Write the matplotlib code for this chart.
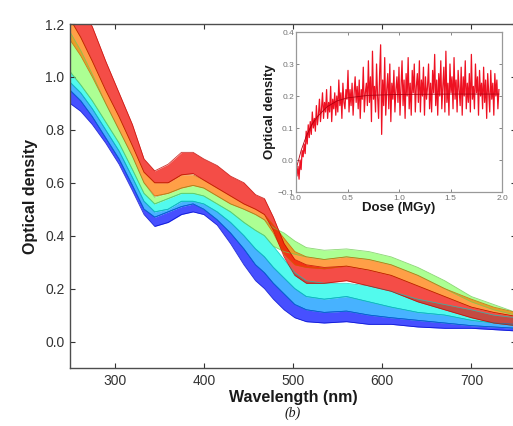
#!/usr/bin/env python3
"""Absorption spectra vs wavelength for increasing dose, with an OD-vs-dose inset."""

import matplotlib
matplotlib.use("Agg")
import matplotlib.pyplot as plt
import numpy as np

plt.rcParams["font.family"] = ["Liberation Sans", "DejaVu Sans"]

WAVELENGTH = [250, 262, 275, 290, 305, 320, 333, 345, 360, 375, 388, 400, 415, 430, 445,
              458, 468, 478, 490, 502, 515, 535, 560, 585, 610, 640, 670, 700, 725, 750]

# colour bands, low dose (blue) to high dose (red): lower and upper edge of each band
BLUE_LO = [0.90, 0.87, 0.82, 0.75, 0.67, 0.57, 0.48, 0.435, 0.45, 0.48, 0.49, 0.48, 0.44, 0.37, 0.29,
           0.23, 0.20, 0.16, 0.12, 0.09, 0.075, 0.07, 0.075, 0.065, 0.065, 0.055, 0.05, 0.05, 0.045, 0.04]
BLUE_HI = [0.95, 0.91, 0.85, 0.77, 0.69, 0.59, 0.50, 0.47, 0.49, 0.51, 0.52, 0.50, 0.46, 0.41, 0.35,
           0.29, 0.26, 0.22, 0.18, 0.14, 0.12, 0.11, 0.115, 0.10, 0.09, 0.08, 0.07, 0.06, 0.055, 0.05]
LBLUE_LO = [0.95, 0.91, 0.85, 0.77, 0.69, 0.59, 0.50, 0.47, 0.49, 0.51, 0.52, 0.50, 0.46, 0.41, 0.35,
            0.29, 0.26, 0.22, 0.18, 0.14, 0.12, 0.11, 0.115, 0.10, 0.09, 0.08, 0.07, 0.06, 0.055, 0.05]
LBLUE_HI = [0.98, 0.94, 0.88, 0.80, 0.72, 0.62, 0.53, 0.49, 0.50, 0.53, 0.53, 0.52, 0.49, 0.45, 0.40,
            0.35, 0.32, 0.28, 0.24, 0.20, 0.17, 0.16, 0.17, 0.15, 0.13, 0.11, 0.10, 0.08, 0.07, 0.065]
CYAN_LO = [0.98, 0.94, 0.88, 0.80, 0.72, 0.62, 0.53, 0.49, 0.50, 0.53, 0.53, 0.52, 0.49, 0.45, 0.40,
           0.35, 0.32, 0.28, 0.24, 0.20, 0.17, 0.16, 0.17, 0.15, 0.13, 0.11, 0.10, 0.08, 0.07, 0.06]
CYAN_HI = [1.02, 0.97, 0.91, 0.83, 0.75, 0.65, 0.56, 0.52, 0.54, 0.56, 0.56, 0.55, 0.52, 0.49, 0.45,
           0.42, 0.40, 0.36, 0.31, 0.26, 0.23, 0.22, 0.22, 0.21, 0.19, 0.16, 0.14, 0.12, 0.10, 0.09]
GREEN_LO = [1.02, 0.97, 0.91, 0.83, 0.75, 0.65, 0.56, 0.52, 0.54, 0.56, 0.56, 0.55, 0.52, 0.49, 0.45,
            0.42, 0.40, 0.36, 0.34, 0.33, 0.32, 0.31, 0.32, 0.31, 0.29, 0.25, 0.20, 0.15, 0.12, 0.10]
GREEN_HI = [1.17, 1.10, 1.01, 0.90, 0.80, 0.70, 0.60, 0.545, 0.56, 0.58, 0.59, 0.58, 0.55, 0.52, 0.50,
            0.48, 0.46, 0.43, 0.41, 0.38, 0.355, 0.345, 0.35, 0.34, 0.32, 0.28, 0.23, 0.17, 0.14, 0.11]
ORANGE_LO = [1.14, 1.08, 1.00, 0.90, 0.80, 0.70, 0.60, 0.55, 0.56, 0.58, 0.59, 0.58, 0.55, 0.52, 0.50,
             0.48, 0.46, 0.41, 0.33, 0.29, 0.28, 0.275, 0.285, 0.27, 0.25, 0.21, 0.17, 0.13, 0.11, 0.095]
ORANGE_HI = [1.22, 1.15, 1.06, 0.95, 0.85, 0.74, 0.64, 0.60, 0.60, 0.63, 0.63, 0.61, 0.58, 0.55, 0.52,
             0.50, 0.48, 0.44, 0.39, 0.34, 0.32, 0.31, 0.32, 0.31, 0.29, 0.25, 0.20, 0.16, 0.13, 0.11]
RED_LO = [1.22, 1.15, 1.06, 0.95, 0.85, 0.74, 0.64, 0.60, 0.60, 0.63, 0.635, 0.61, 0.58, 0.55, 0.52,
          0.50, 0.48, 0.42, 0.32, 0.25, 0.22, 0.22, 0.23, 0.21, 0.19, 0.15, 0.12, 0.09, 0.07, 0.06]
RED_HI = [1.32, 1.27, 1.19, 1.06, 0.94, 0.82, 0.69, 0.645, 0.67, 0.715, 0.715, 0.69, 0.665, 0.625, 0.60,
          0.555, 0.54, 0.47, 0.37, 0.31, 0.29, 0.28, 0.285, 0.27, 0.25, 0.21, 0.17, 0.13, 0.11, 0.095]

BAND_CMAP_POS = [0.14, 0.27, 0.37, 0.52, 0.78, 0.90]
BAND_LO = [BLUE_LO, LBLUE_LO, CYAN_LO, GREEN_LO, ORANGE_LO, RED_LO]
BAND_HI = [BLUE_HI, LBLUE_HI, CYAN_HI, GREEN_HI, ORANGE_HI, RED_HI]

# inset: optical density vs dose
INSET_OD = [
    -0.01, -0.05, -0.02, -0.06, 0.00, -0.03, 0.03, 0.01, 0.05, 0.02,
    0.09, 0.05, 0.11, 0.07, 0.12, 0.08, 0.15, 0.10, 0.13, 0.09,
    0.17, 0.11, 0.14, 0.19, 0.12, 0.16, 0.21, 0.13, 0.18, 0.15,
    0.22, 0.13, 0.18, 0.15, 0.23, 0.12, 0.19, 0.16, 0.21, 0.14,
    0.20, 0.15, 0.25, 0.17, 0.21, 0.13, 0.24, 0.18, 0.16, 0.22,
    0.19, 0.28, 0.15, 0.22, 0.17, 0.24, 0.14, 0.21, 0.26, 0.18,
    0.23, 0.16, 0.25, 0.13, 0.22, 0.19, 0.29, 0.15, 0.21, 0.24,
    0.17, 0.31, 0.18, 0.26, 0.12, 0.34, 0.19, 0.23, 0.15, 0.30,
    0.20, 0.13, 0.27, 0.36, 0.08, 0.25, 0.17, 0.32, 0.14, 0.22,
    0.27, 0.16, 0.30, 0.12, 0.24, 0.19, 0.28, 0.15, 0.22, 0.26,
    0.18, 0.29, 0.14, 0.23, 0.31, 0.17, 0.25, 0.13, 0.27, 0.20,
    0.32, 0.16, 0.24, 0.14, 0.28, 0.21, 0.30, 0.15, 0.23, 0.27,
    0.18, 0.31, 0.15, 0.25, 0.20, 0.29, 0.14, 0.26, 0.19, 0.23,
    0.30, 0.16, 0.24, 0.15, 0.28, 0.21, 0.33, 0.17, 0.25, 0.14,
    0.27, 0.20, 0.31, 0.16, 0.23, 0.29, 0.15, 0.34, 0.18, 0.24,
    0.14, 0.30, 0.21, 0.26, 0.16, 0.32, 0.19, 0.25, 0.15, 0.28,
    0.22, 0.17, 0.29, 0.14, 0.26, 0.20, 0.31, 0.16, 0.24, 0.18,
    0.27, 0.15, 0.33, 0.19, 0.23, 0.16, 0.30, 0.21, 0.26, 0.14,
    0.28, 0.20, 0.24, 0.16, 0.29, 0.18, 0.25, 0.13, 0.27, 0.21,
    0.15, 0.28, 0.19, 0.24, 0.14, 0.27, 0.20, 0.25, 0.16, 0.22,
]
INSET_MAX_DOSE = 1.97
FIT_DOSE = [0.0, 0.05, 0.1, 0.15, 0.2, 0.3, 0.4, 0.5, 0.7, 1.0, 1.5, 1.97]
FIT_OD = [-0.03, 0.03, 0.075, 0.108, 0.133, 0.166, 0.185, 0.194, 0.202, 0.205, 0.206, 0.206]

INK = "0.2"

fig = plt.figure(figsize=(5.13, 4.26), dpi=100)
ax = fig.add_axes([70 / 513, 1 - 368 / 426, 446 / 513, 344 / 426])

cmap = plt.get_cmap("jet")
wl = np.array(WAVELENGTH)
for pos, lo, hi in zip(BAND_CMAP_POS, BAND_LO, BAND_HI):
    colour = cmap(pos)
    edge = tuple(0.8 * c for c in colour[:3])
    ax.fill_between(wl, lo, hi, color=colour, alpha=0.72, linewidth=0)
    ax.plot(wl, lo, color=edge, linewidth=0.6, alpha=0.8)
    ax.plot(wl, hi, color=edge, linewidth=0.6, alpha=0.8)

ax.set_xlim(250, 750)
ax.set_ylim(-0.1, 1.2)
ax.set_xticks([300, 400, 500, 600, 700])
ax.set_yticks([0.0, 0.2, 0.4, 0.6, 0.8, 1.0, 1.2])
ax.set_yticklabels(["0.0", "0.2", "0.4", "0.6", "0.8", "1.0", "1.2"])
ax.tick_params(direction="in", top=True, right=True, length=3.5, width=0.8,
               labelsize=10, colors=INK, pad=4)
for spine in ax.spines.values():
    spine.set_color("0.3")
    spine.set_linewidth(1.0)
ax.set_xlabel("Wavelength (nm)", fontsize=11.5, fontweight="bold", color="0.1", labelpad=2)
ax.set_ylabel("Optical density", fontsize=11.5, fontweight="bold", color="0.1", labelpad=5)

fig.text(293 / 513, 1 - 413 / 426, "(b)", fontsize=10, style="italic",
         family="Liberation Serif", ha="center", va="center", color="0.1")

# inset
ins = fig.add_axes([296 / 513, 1 - 192 / 426, 206 / 513, 160 / 426])
dose = np.linspace(0.0, INSET_MAX_DOSE, len(INSET_OD))
ins.plot(dose, INSET_OD, color="#ee1122", linewidth=0.9)
ins.plot(FIT_DOSE, FIT_OD, color="#b00010", linewidth=0.6)
ins.set_xlim(0.0, 2.0)
ins.set_ylim(-0.1, 0.4)
ins.set_xticks([0.0, 0.5, 1.0, 1.5, 2.0])
ins.set_yticks([-0.1, 0.0, 0.1, 0.2, 0.3, 0.4])
ins.tick_params(direction="in", top=True, right=True, length=2, width=0.6,
                labelsize=6, colors="0.45", pad=1.5)
ins.tick_params(axis="x", pad=2.5)
for spine in ins.spines.values():
    spine.set_color("0.6")
    spine.set_linewidth(0.9)
ins.set_xlabel("Dose (MGy)", fontsize=9.5, fontweight="bold", color="0.1", labelpad=0)
ins.set_ylabel("Optical density", fontsize=9.5, fontweight="bold", color="0.1", labelpad=0.5)

fig.savefig("out.png", dpi=100)
